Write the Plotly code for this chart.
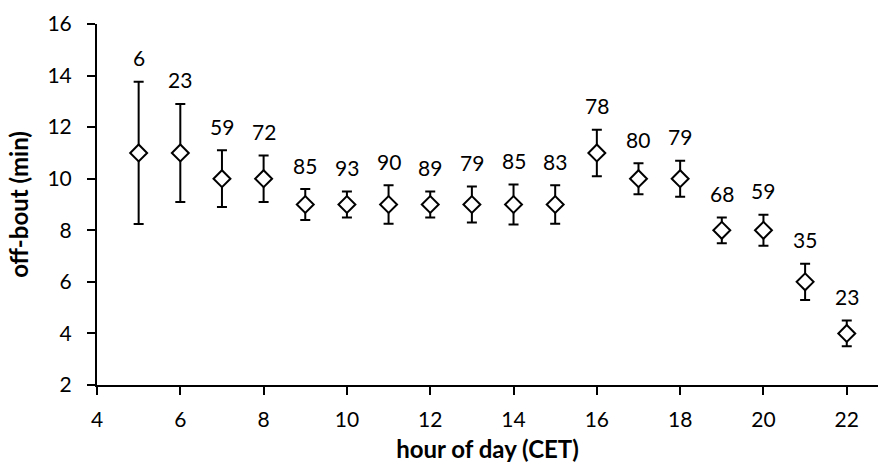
import plotly.graph_objects as go

hours = [5, 6, 7, 8, 9, 10, 11, 12, 13, 14, 15, 16, 17, 18, 19, 20, 21, 22]
off_bout = [11, 11, 10, 10, 9, 9, 9, 9, 9, 9, 9, 11, 10, 10, 8, 8, 6, 4]
err = [2.76, 1.9, 1.1, 0.9, 0.6, 0.5, 0.75, 0.5, 0.7, 0.78, 0.75, 0.9, 0.6, 0.7, 0.5, 0.6, 0.7, 0.5]
n_labels = ["6", "23", "59", "72", "85", "93", "90", "89", "79", "85", "83", "78", "80", "79", "68", "59", "35", "23"]
x_ticks = [4, 6, 8, 10, 12, 14, 16, 18, 20, 22]
y_ticks = [2, 4, 6, 8, 10, 12, 14, 16]

FONT = "Lato, Carlito, Calibri, sans-serif"
TICK_SIZE = 21
TITLE_SIZE = 24

fig = go.Figure()
fig.add_trace(go.Scatter(
    x=hours, y=off_bout, mode="markers",
    marker=dict(symbol="diamond", size=13, color="white",
                line=dict(color="black", width=2)),
    error_y=dict(type="data", array=err, visible=True,
                 color="black", thickness=2, width=5),
    showlegend=False,
))

for h, v, e, t in zip(hours, off_bout, err, n_labels):
    fig.add_annotation(x=h, y=v + e, text=t, showarrow=False,
                       yanchor="middle", yshift=24,
                       font=dict(family=FONT, size=TICK_SIZE, color="black"))

fig.update_layout(
    width=878, height=476,
    margin=dict(l=97, r=0, t=24, b=91),
    plot_bgcolor="white", paper_bgcolor="white",
    font=dict(family=FONT, size=TICK_SIZE, color="black"),
)
fig.update_xaxes(range=[4, 22.75], tickvals=x_ticks, ticks="outside",
                 ticklen=8, tickwidth=2, tickcolor="black",
                 showline=True, linecolor="black", linewidth=2,
                 showgrid=False, zeroline=False, ticklabelstandoff=7,
                 tickfont=dict(family=FONT, size=TICK_SIZE),
                 title=dict(text="<b>hour of day (CET)</b>", standoff=11,
                            font=dict(family=FONT, size=TITLE_SIZE)))
fig.update_yaxes(range=[2, 16], tickvals=y_ticks, ticks="outside",
                 ticklen=8, tickwidth=2, tickcolor="black",
                 showline=True, linecolor="black", linewidth=2,
                 showgrid=False, zeroline=False, ticklabelstandoff=11,
                 tickfont=dict(family=FONT, size=TICK_SIZE),
                 title=dict(text="<b>off-bout (min)</b>", standoff=12,
                            font=dict(family=FONT, size=TITLE_SIZE)))

fig.write_html("out.html")
